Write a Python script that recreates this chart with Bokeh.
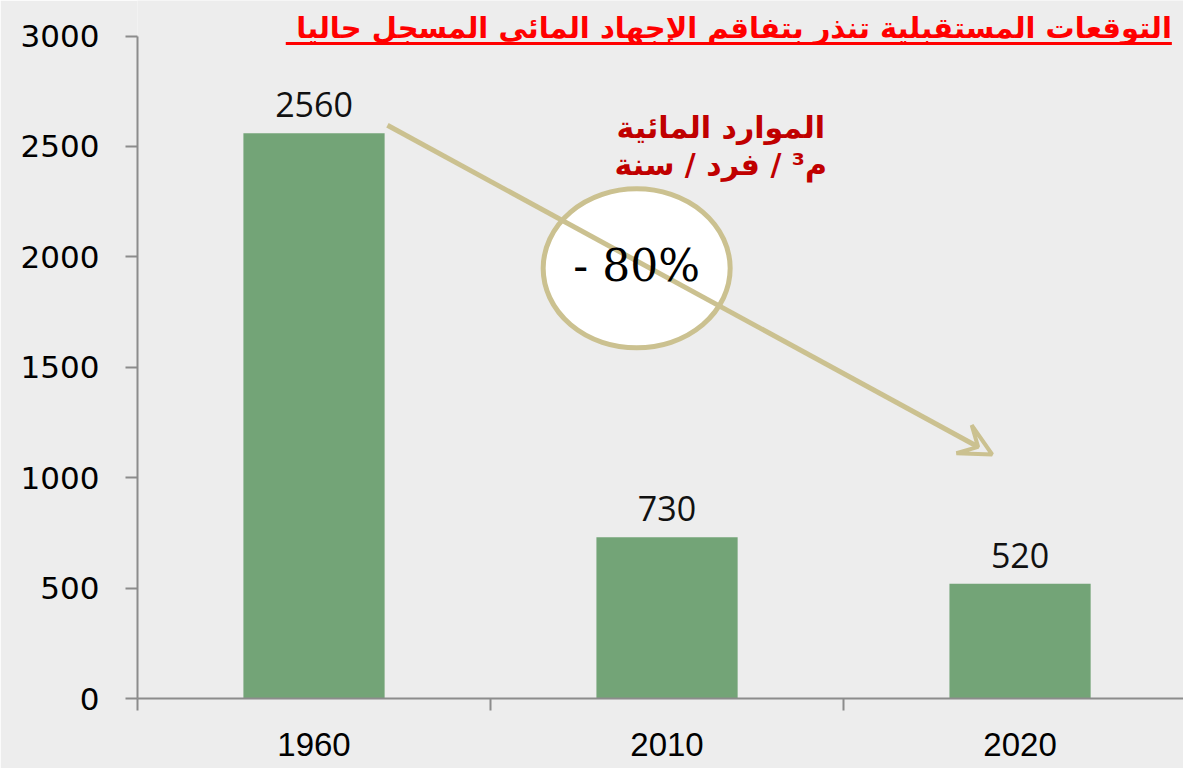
from bokeh.plotting import figure
from bokeh.models import Range1d, FixedTicker, Label, Arrow, VeeHead, ColumnDataSource
from bokeh.core.properties import value
from bokeh.embed import file_html
from bokeh.resources import INLINE

# ---- data ----
years = ["1960", "2010", "2020"]
water = [2560, 730, 520]
y_ticks = [0, 500, 1000, 1500, 2000, 2500, 3000]
title_text = "التوقعات المستقبلية تنذر بتفاقم الإجهاد المائي المسجل حاليا"
unit_line1 = "الموارد المائية"
unit_line2 = "م³ / فرد / سنة"
change_text = "- 80%"

BG = "#EDEDED"
GREEN = "#73A477"
TAN = "#CBC190"
AXIS = "#8C8C8C"

n = len(years)
xs = [i + 0.5 for i in range(n)]
src = ColumnDataSource(dict(x=xs, top=water, lab=[str(v) for v in water]))

p = figure(width=1183, height=768, output_backend="svg", toolbar_location=None,
           x_range=Range1d(0, 2.963), y_range=Range1d(0, 3161),
           min_border_left=137, min_border_right=0, min_border_top=0, min_border_bottom=70)
p.background_fill_color = BG
p.border_fill_color = BG
p.outline_line_color = None
p.grid.visible = False

p.vbar(x="x", top="top", width=0.4, source=src, fill_color=GREEN, line_color=None)
p.text(x="x", y="top", text="lab", source=src, text_align="center", text_baseline="bottom",
       y_offset=-16, text_font=value("Open Sans"), text_font_size="34px", text_color="#111111")

# axes
xa = p.xaxis[0]
xa.ticker = FixedTicker(ticks=xs, minor_ticks=list(range(n)))
xa.major_label_overrides = {x: y for x, y in zip(xs, years)}
xa.major_tick_out = 0
xa.major_tick_in = 0
xa.minor_tick_out = 12
xa.minor_tick_in = 0
xa.minor_tick_line_color = AXIS
xa.minor_tick_line_width = 2
xa.axis_line_color = AXIS
xa.axis_line_width = 2
xa.major_label_standoff = 22
xa.major_label_text_font = "Liberation Sans Narrow, Liberation Sans"
xa.major_label_text_font_size = "33px"
xa.major_label_text_color = "#000000"

ya = p.yaxis[0]
ya.ticker = FixedTicker(ticks=y_ticks)
ya.bounds = (0, 3000)
ya.major_tick_out = 12
ya.major_tick_in = 0
ya.minor_tick_out = 0
ya.minor_tick_in = 0
ya.major_tick_line_color = AXIS
ya.major_tick_line_width = 2
ya.axis_line_color = AXIS
ya.axis_line_width = 2
ya.major_label_standoff = 26
ya.major_label_text_font = "DejaVu Sans"
ya.major_label_text_font_size = "31px"
ya.major_label_text_color = "#000000"

# decreasing-trend arrow
p.add_layout(Arrow(x_start=0.708, y_start=2596, x_end=2.421, y_end=1105,
                   line_color=TAN, line_width=5,
                   end=VeeHead(size=32, line_color=TAN, line_width=4, fill_color=None)))

# ellipse with percentage
p.ellipse(x=[1.414], y=[1948], width=[187], height=[159], width_units="screen",
          height_units="screen", fill_color="white", line_color=TAN, line_width=5)
p.add_layout(Label(x=1.414, y=1960, text=change_text, text_align="center", text_baseline="middle",
                   text_font="DejaVu Serif", text_font_size="44px", text_color="#000000"))

# unit annotation
p.add_layout(Label(x=1.652, y=2585, text=unit_line1, text_align="center", text_baseline="middle",
                   text_font="DejaVu Sans", text_font_style="bold", text_font_size="30px",
                   text_color="#C00000"))
p.add_layout(Label(x=1.652, y=2419, text=unit_line2, text_align="center", text_baseline="middle",
                   text_font="DejaVu Sans", text_font_style="bold", text_font_size="30px",
                   text_color="#C00000"))

# title
p.add_layout(Label(x=2.93, y=3035, text=title_text, text_align="right", text_baseline="middle",
                   text_font="DejaVu Sans", text_font_style="bold", text_font_size="29px",
                   text_color="#FF0000"))
p.add_layout(Arrow(x_start=0.42, y_start=2966, x_end=2.93, y_end=2966, end=None,
                   line_color="#FF0000", line_width=3))

open("out.html", "w").write(file_html(p, INLINE))
